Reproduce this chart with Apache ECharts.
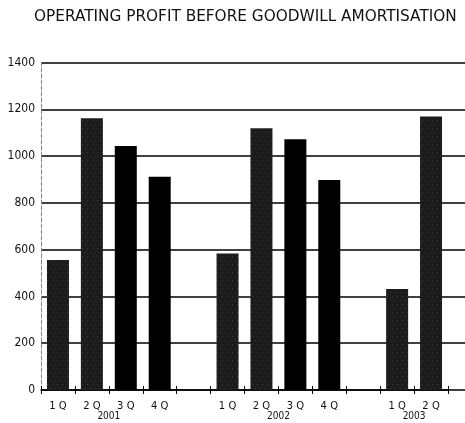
<!DOCTYPE html>
<html><head><meta charset="utf-8">
<script src="https://cdn.jsdelivr.net/npm/echarts@6/dist/echarts.min.js"></script>
<style>html,body{margin:0;padding:0;background:#fff}#c{width:465px;height:423px}</style>
</head><body><div id="c"></div>
<script>
const titleText = 'OPERATING PROFIT BEFORE GOODWILL AMORTISATION';
const quarters = ['1 Q','2 Q','3 Q','4 Q','','1 Q','2 Q','3 Q','4 Q','','1 Q','2 Q'];
const profit = [556,1162,1043,912,null,584,1119,1072,898,null,432,1169];
const stippled = [true,true,false,false,false,true,true,false,false,false,true,true];
const yearLabels = ['2001','2002','2003'];
const yearPositions = [2,7,11];
const yTicks = [0,200,400,600,800,1000,1200,1400];

const chart = echarts.init(document.getElementById('c'));
const dotDecal = {symbol:'rect', symbolSize:0.6, color:'rgba(255,255,255,0.45)', dashArrayX:[[1,4],[0,2,1,2]], dashArrayY:[1,3], rotation:0};
chart.setOption({
  animation:false,
  title:{text:titleText,left:29,top:5,textStyle:{fontFamily:'DejaVu Sans',fontSize:15.3,fontWeight:'normal',color:'#111'}},
  grid:[
    {left:41,right:17,top:62.5,bottom:33},
    {left:41,right:0,top:62.5,bottom:33}
  ],
  xAxis:[
    {type:'category',gridIndex:0,data:quarters,
     axisLine:{lineStyle:{color:'#000',width:1.5}},
     axisTick:{show:true,length:4,lineStyle:{color:'#000',width:1}},
     axisLabel:{margin:11,fontFamily:'DejaVu Sans',fontSize:10,color:'#111'}},
    {type:'value',gridIndex:0,min:0,max:12,interval:1,position:'bottom',
     axisLine:{show:false},splitLine:{show:false},
     axisTick:{show:true,inside:true,length:4,lineStyle:{color:'#000'}},
     axisLabel:{margin:21,fontFamily:'DejaVu Sans Condensed, DejaVu Sans',fontSize:10,color:'#111',
       formatter:v=>{const i=yearPositions.indexOf(v);return i>=0?yearLabels[i]:'';}}},
    {type:'value',gridIndex:1,min:0,max:1,show:false}
  ],
  yAxis:[
    {type:'value',gridIndex:0,min:0,max:1400,interval:200,
     axisLine:{show:true,lineStyle:{color:'#888',width:1,type:'dashed'}},
     axisTick:{show:false},splitLine:{show:false},
     axisLabel:{margin:6,fontFamily:'DejaVu Sans Condensed',fontSize:12,color:'#111',
       formatter:v=>yTicks.indexOf(v)>=0?String(v):''}},
    {type:'value',gridIndex:1,min:0,max:1400,interval:200,
     axisLine:{show:false},axisTick:{show:false},axisLabel:{show:false},
     splitLine:{show:true,lineStyle:{color:'#000',width:1.5}}}
  ],
  series:[
    {type:'bar',xAxisIndex:0,yAxisIndex:0,barWidth:22,z:3,
     data:profit.map((v,i)=>({value:v,itemStyle:{color:stippled[i]?'#1c1c1c':'#000',decal:stippled[i]?dotDecal:null}}))},
    {type:'line',xAxisIndex:2,yAxisIndex:1,data:[],silent:true}
  ]
});
</script></body></html>
